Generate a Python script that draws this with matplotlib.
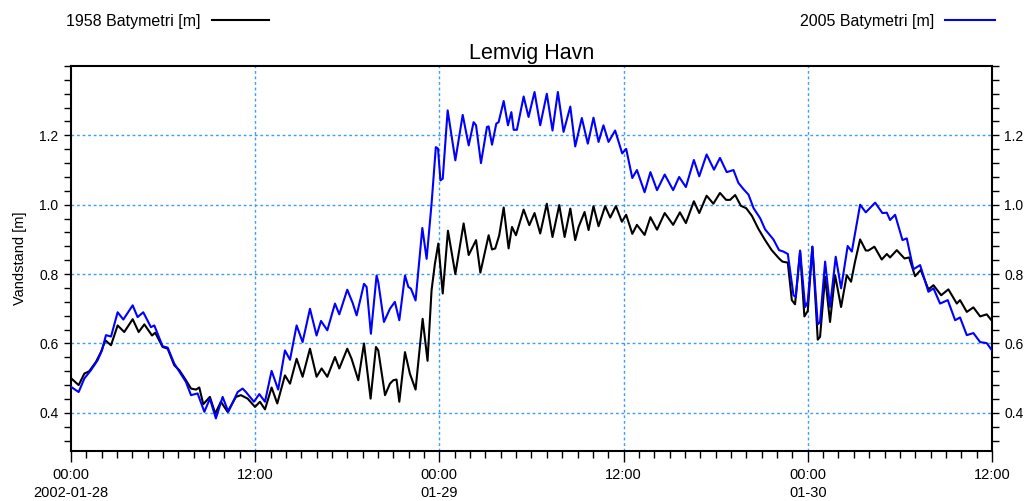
import numpy as np
import pandas as pd
import matplotlib
matplotlib.use("Agg")
import matplotlib.pyplot as plt
from matplotlib.ticker import MultipleLocator
from matplotlib.lines import Line2D

plt.rcParams["font.family"] = ["Liberation Sans", "DejaVu Sans"]

start = pd.Timestamp("2002-01-28 00:00")

# hours since start / water level [m], 1958 bathymetry
t_1958 = [0.0, 0.5, 0.87, 1.19, 1.63, 1.95, 2.24, 2.61, 3.04, 3.47, 4.02, 4.41, 4.78, 5.28, 5.49,
          5.97, 6.3, 6.73, 7.06, 7.49, 7.82, 8.14, 8.36, 8.62, 9.05, 9.4, 9.77, 10.2, 10.75, 11.07,
          11.51, 11.99, 12.31, 12.64, 13.07, 13.44, 13.94, 14.27, 14.7, 15.09, 15.57, 16.0, 16.33,
          16.7, 17.2, 17.48, 18.0, 18.28, 18.72, 19.09, 19.52, 19.87, 20.02, 20.46, 20.78, 21.0,
          21.21, 21.39, 21.76, 22.08, 22.45, 22.91, 23.23, 23.49, 23.71, 23.93, 24.22, 24.56, 25.04,
          25.58, 25.91, 26.39, 26.67, 27.21, 27.43, 27.64, 27.9, 28.19, 28.51, 28.73, 28.99, 29.49,
          29.86, 30.2, 30.57, 31.0, 31.37, 31.81, 32.16, 32.53, 32.85, 33.07, 33.46, 33.72, 34.04,
          34.37, 34.8, 35.13, 35.5, 35.89, 36.17, 36.57, 36.87, 37.37, 37.75, 38.18, 38.68, 39.23,
          39.67, 40.06, 40.58, 40.93, 41.41, 41.85, 42.28, 42.68, 42.94, 43.27, 43.64, 43.99, 44.36,
          44.79, 45.22, 45.65, 46.13, 46.35, 46.7, 46.96, 47.17, 47.5, 47.78, 48.0, 48.3, 48.65,
          48.8, 49.13, 49.45, 49.78, 50.17, 50.54, 50.82, 51.08, 51.41, 51.78, 51.95, 52.34, 52.82,
          53.15, 53.36, 53.8, 54.3, 54.6, 54.99, 55.36, 55.86, 56.19, 56.69, 57.16, 57.71, 57.92,
          58.36, 58.79, 59.23, 59.66, 60.0]
v_1958 = [0.50, 0.48, 0.513, 0.52, 0.547, 0.575, 0.609, 0.595, 0.652, 0.633, 0.67, 0.633, 0.655,
          0.623, 0.631, 0.59, 0.585, 0.537, 0.523, 0.494, 0.47, 0.467, 0.473, 0.425, 0.446, 0.398,
          0.432, 0.403, 0.446, 0.451, 0.441, 0.417, 0.432, 0.41, 0.473, 0.427, 0.508, 0.484, 0.556,
          0.504, 0.585, 0.504, 0.528, 0.504, 0.561, 0.528, 0.585, 0.556, 0.494, 0.6, 0.441, 0.59,
          0.58, 0.451, 0.484, 0.494, 0.496, 0.432, 0.575, 0.513, 0.467, 0.671, 0.55, 0.753, 0.83,
          0.888, 0.744, 0.925, 0.80, 0.946, 0.855, 0.898, 0.804, 0.912, 0.871, 0.874, 0.912, 0.992,
          0.874, 0.936, 0.912, 0.986, 0.941, 0.976, 0.917, 1.003, 0.907, 0.999, 0.907, 0.989, 0.898,
          0.936, 0.979, 0.927, 0.996, 0.938, 0.996, 0.963, 0.996, 0.951, 0.971, 0.916, 0.942, 0.913,
          0.964, 0.928, 0.976, 0.942, 0.978, 0.947, 1.01, 0.976, 1.026, 1.003, 1.034, 1.014, 1.014,
          1.028, 0.997, 0.99, 0.968, 0.93, 0.898, 0.869, 0.845, 0.836, 0.833, 0.725, 0.713, 0.865,
          0.678, 0.694, 0.879, 0.611, 0.619, 0.792, 0.662, 0.797, 0.705, 0.797, 0.778, 0.836, 0.90,
          0.868, 0.868, 0.879, 0.842, 0.858, 0.848, 0.869, 0.845, 0.848, 0.794, 0.812, 0.756, 0.768,
          0.739, 0.756, 0.715, 0.725, 0.691, 0.704, 0.678, 0.684, 0.665]

# hours since start / water level [m], 2005 bathymetry
t_2005 = [0.0, 0.5, 0.87, 1.3, 1.74, 2.02, 2.28, 2.61, 3.04, 3.41, 4.02, 4.34, 4.71, 5.21, 5.43,
          5.97, 6.3, 6.73, 7.49, 7.82, 8.25, 8.69, 9.05, 9.44, 9.88, 10.25, 10.86, 11.18, 11.4,
          11.92, 12.27, 12.64, 13.07, 13.5, 13.94, 14.27, 14.7, 15.09, 15.57, 16.0, 16.29, 16.7,
          17.2, 17.48, 18.0, 18.35, 18.61, 19.09, 19.26, 19.54, 19.91, 20.02, 20.39, 20.78, 21.1,
          21.39, 21.76, 21.98, 22.15, 22.45, 22.89, 23.17, 23.49, 23.77, 23.91, 24.07, 24.22, 24.54,
          25.04, 25.52, 25.91, 26.23, 26.39, 26.71, 27.1, 27.21, 27.43, 27.71, 27.86, 28.19, 28.47,
          28.69, 28.84, 29.05, 29.49, 29.81, 30.2, 30.57, 31.0, 31.37, 31.72, 32.09, 32.53, 32.85,
          33.28, 33.67, 34.04, 34.37, 34.69, 35.02, 35.45, 35.91, 36.17, 36.57, 36.87, 37.37, 37.75,
          38.18, 38.68, 39.23, 39.62, 40.06, 40.58, 40.93, 41.41, 41.89, 42.28, 42.72, 43.16, 43.48,
          43.81, 44.14, 44.47, 44.9, 45.22, 45.76, 46.13, 46.41, 46.7, 47.07, 47.22, 47.5, 47.83,
          48.0, 48.3, 48.65, 48.8, 49.13, 49.45, 49.82, 50.17, 50.6, 50.87, 51.41, 51.78, 52.39,
          52.86, 53.15, 53.36, 53.69, 54.17, 54.45, 54.88, 55.32, 55.86, 56.19, 56.62, 57.12, 57.6,
          57.92, 58.36, 58.79, 59.23, 59.66, 60.0]
v_2005 = [0.475, 0.46, 0.499, 0.523, 0.552, 0.58, 0.624, 0.62, 0.69, 0.669, 0.71, 0.676, 0.69,
          0.647, 0.652, 0.592, 0.588, 0.542, 0.489, 0.451, 0.456, 0.403, 0.441, 0.384, 0.446, 0.403,
          0.46, 0.47, 0.46, 0.432, 0.454, 0.432, 0.521, 0.467, 0.58, 0.553, 0.652, 0.604, 0.70,
          0.623, 0.665, 0.638, 0.715, 0.684, 0.755, 0.717, 0.681, 0.772, 0.763, 0.628, 0.796, 0.777,
          0.662, 0.70, 0.72, 0.667, 0.796, 0.763, 0.758, 0.724, 0.933, 0.844, 1.002, 1.166, 1.162,
          1.07, 1.075, 1.272, 1.128, 1.259, 1.171, 1.238, 1.229, 1.12, 1.224, 1.226, 1.173, 1.234,
          1.238, 1.299, 1.229, 1.267, 1.216, 1.216, 1.312, 1.253, 1.325, 1.229, 1.32, 1.214, 1.325,
          1.21, 1.283, 1.168, 1.25, 1.176, 1.251, 1.181, 1.229, 1.181, 1.214, 1.148, 1.161, 1.077,
          1.1, 1.036, 1.094, 1.042, 1.087, 1.042, 1.08, 1.051, 1.129, 1.082, 1.145, 1.101, 1.135,
          1.094, 1.1, 1.063, 1.045, 1.029, 0.99, 0.961, 0.929, 0.90, 0.869, 0.865, 0.858, 0.739,
          0.734, 0.868, 0.705, 0.72, 0.879, 0.655, 0.662, 0.836, 0.705, 0.85, 0.759, 0.881, 0.865,
          1.0, 0.978, 1.006, 0.976, 0.977, 0.956, 0.971, 0.898, 0.903, 0.814, 0.826, 0.749, 0.759,
          0.715, 0.725, 0.667, 0.675, 0.624, 0.63, 0.604, 0.601, 0.58]

tick_hours = [0, 12, 24, 36, 48, 60]
tick_labels = ["00:00\n2002-01-28", "12:00", "00:00\n01-29", "12:00", "00:00\n01-30", "12:00"]
y_ticks = [0.4, 0.6, 0.8, 1.0, 1.2]

x1 = start + pd.to_timedelta(t_1958, unit="h")
x2 = start + pd.to_timedelta(t_2005, unit="h")
xt = start + pd.to_timedelta(tick_hours, unit="h")
xminor = start + pd.to_timedelta(np.arange(0, 61), unit="h")

fig = plt.figure(figsize=(10.36, 5.01), dpi=100)
ax = fig.add_axes([0.0685, 0.0998, 0.889, 0.7685])

grid_col = "#3d9bff"
ax.plot(x1, v_1958, color="black", lw=1.5, zorder=3)
ax.plot(x2, v_2005, color="#0000ff", lw=1.5, zorder=3)

ax.set_xlim(xt[0], xt[-1])
ax.set_ylim(0.29, 1.4)
ax.set_xticks(xt)
ax.set_xticklabels(tick_labels, fontsize=10.5, linespacing=1.35)
ax.set_xticks(xminor, minor=True)
ax.set_yticks(y_ticks)
ax.set_yticklabels([f"{v:.1f}" for v in y_ticks], fontsize=10)
ax.yaxis.set_minor_locator(MultipleLocator(0.04))

ax.tick_params(axis="y", which="both", direction="out", length=5, width=1,
               left=True, right=True, labelleft=True, labelright=True, pad=4)
ax.tick_params(axis="x", which="major", direction="out", length=8, width=1, pad=4)
ax.tick_params(axis="x", which="minor", direction="out", length=5, width=1)

for x in xt[1:-1]:
    ax.axvline(x, color=grid_col, lw=1, ls=(0, (2, 2)), zorder=1)
for y in y_ticks:
    ax.axhline(y, color=grid_col, lw=1, ls=(0, (2, 2)), zorder=1)

for s in ax.spines.values():
    s.set_linewidth(1.5)

ax.set_ylabel("Vandstand [m]", fontsize=10.5, labelpad=9)
ax.set_title("Lemvig Havn", fontsize=15.5, pad=5)

h1 = Line2D([], [], color="black", lw=1.5)
h2 = Line2D([], [], color="#0000ff", lw=1.5)
fig.legend([h1], ["1958 Batymetri [m]"], loc="center left", bbox_to_anchor=(0.050, 0.958),
           frameon=False, markerfirst=False, handlelength=3.6, fontsize=11.5,
           handletextpad=0.7)
fig.legend([h2], ["2005 Batymetri [m]"], loc="center right", bbox_to_anchor=(0.974, 0.958),
           frameon=False, markerfirst=False, handlelength=3.1, fontsize=11.5,
           handletextpad=0.7)

fig.savefig("out.png", dpi=100)
